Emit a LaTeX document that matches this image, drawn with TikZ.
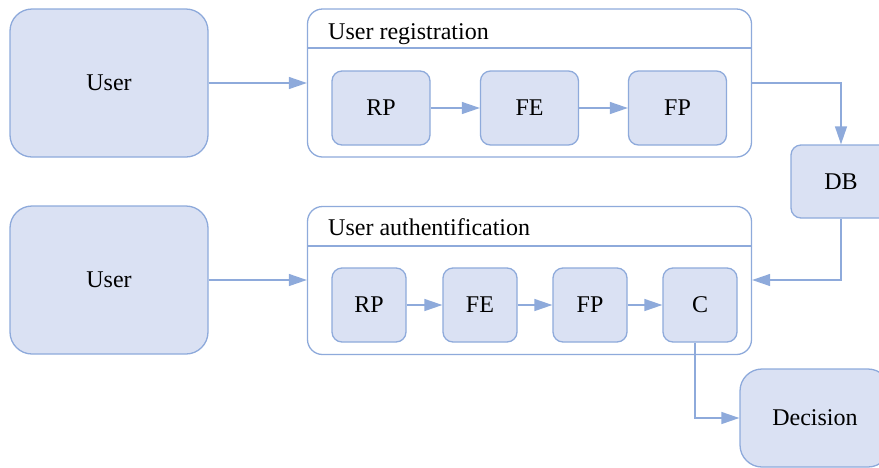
\documentclass[tikz,border=0pt]{standalone}
\usepackage{fontspec}
\setmainfont{Liberation Serif}
\newfontfamily\boxfont{Liberation Serif}
\usetikzlibrary{arrows.meta}
\definecolor{boxfill}{HTML}{DAE1F3}
\definecolor{boxline}{HTML}{8EAADB}

\begin{document}
\begin{tikzpicture}[x=1pt, y=-1pt,
    font=\boxfont\fontsize{24}{28}\selectfont,
    block/.style = {draw=boxline, fill=boxfill, line width=1.3pt, inner sep=0pt},
    actor/.style = {block, rounded corners=22pt, minimum width=198pt, minimum height=148pt},
    stage/.style = {block, rounded corners=10pt, minimum width=98pt, minimum height=74pt},
    small/.style = {block, rounded corners=10pt, minimum width=74pt, minimum height=74pt},
    group/.style = {draw=boxline, fill=white, line width=1.3pt, rounded corners=15pt,
                    minimum width=444pt, minimum height=148pt, inner sep=0pt},
    title/.style = {anchor=base west, inner sep=0pt},
    link/.style = {color=boxline, line width=1.3pt, -{Triangle[length=18pt, width=12pt]}}]
    \useasboundingbox (0,0) rectangle (879,467);
    \clip (0,0) rectangle (879,467);

    % registration
    \node (ua) [actor] at (109,83) {User};
    \node (gr) [group] at (529.5,83) {};
    \node (tr) [title] at (328,39) {User registration};
    \draw [boxline, line width=1.3pt] (gr.west |- 0,48) -- (gr.east |- 0,48);
    \node (rpa) [stage] at (381,108) {RP};
    \node (fea) [stage] at (529.5,108) {FE};
    \node (fpa) [stage] at (677.5,108) {FP};

    % database
    \node (db) [stage, minimum width=100pt, minimum height=73pt] at (841,181.5) {DB};

    % authentification
    \node (ub) [actor] at (109,280) {User};
    \node (ga) [group] at (529.5,280.5) {};
    \node (ta) [title] at (328,235) {User authentification};
    \draw [boxline, line width=1.3pt] (ga.west |- 0,246) -- (ga.east |- 0,246);
    \node (rpb) [small] at (369,305) {RP};
    \node (feb) [small] at (480,305) {FE};
    \node (fpb) [small] at (590,305) {FP};
    \node (cb) [small] at (700,305) {C};

    \node (dec) [block, rounded corners=22pt, minimum width=150pt, minimum height=98pt] at (815,418) {Decision};

    \path [link]
      (ua) edge [link] (gr.west |- ua)
      (rpa) edge [link] (fea)
      (fea) edge [link] (fpa)
      (ub) edge [link] (ga.west |- ub)
      (rpb) edge [link] (feb)
      (feb) edge [link] (fpb)
      (fpb) edge [link] (cb);
    \draw [link] (gr.east |- ua) -| (db.north);
    \draw [link] (db.south) |- (ga.east |- ub);
    \draw [link] ([xshift=-5pt]cb.south) |- (dec.west);
\end{tikzpicture}
\end{document}
